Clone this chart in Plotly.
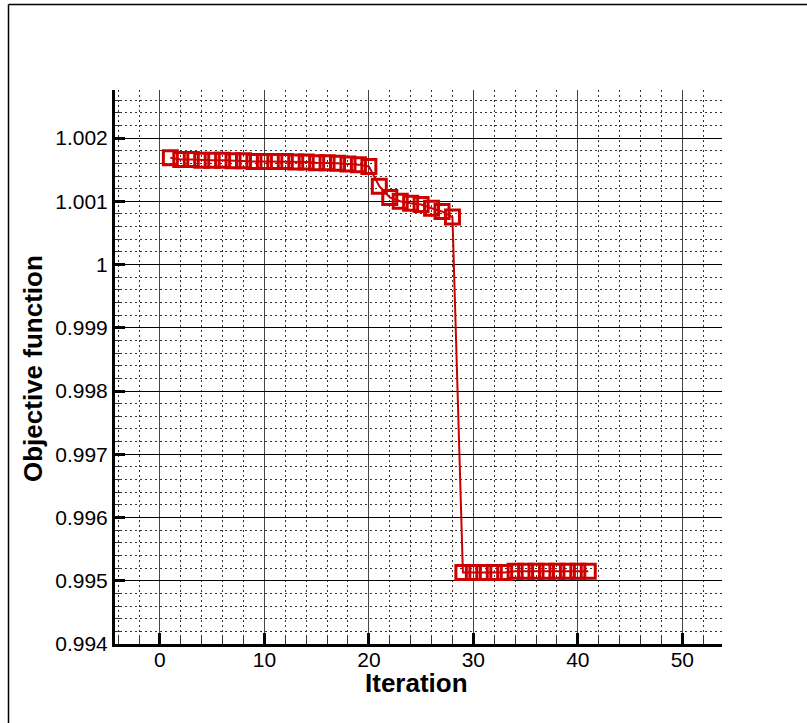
import plotly.graph_objects as go

# Optimisation history: objective function value at each iteration
iterations = list(range(1, 42))
objective = [
    1.00169, 1.00166, 1.00166, 1.00165, 1.00165, 1.00165, 1.00164, 1.00164,
    1.00163, 1.00163, 1.00163, 1.00163, 1.00162, 1.00162, 1.00161, 1.00161,
    1.00160, 1.00159, 1.00158, 1.00155,
    1.00124, 1.00106, 1.00100, 1.00097, 1.00095, 1.00089, 1.00084, 1.00075,
    0.99513, 0.99513, 0.99513, 0.99513, 0.99513,
    0.99515, 0.99515, 0.99515, 0.99515, 0.99515, 0.99515, 0.99515, 0.99515,
]

x_ticks = [0, 10, 20, 30, 40, 50]
y_ticks = [0.994, 0.995, 0.996, 0.997, 0.998, 0.999, 1.000, 1.001, 1.002]
y_tick_text = ["0.994", "0.995", "0.996", "0.997", "0.998", "0.999", "1", "1.001", "1.002"]

FONT = "Liberation Sans, Arial, Helvetica, sans-serif"
RED = "#cc0000"

W, H = 807, 723
L, R, T, B = 115, 85, 90, 79
pw, ph = W - L - R, H - T - B


def px_x(p):
    return (p - L) / pw


def px_y(p):
    return (H - B - p) / ph


fig = go.Figure()
fig.add_trace(go.Scatter(
    x=iterations,
    y=objective,
    mode="lines+markers",
    line=dict(color=RED, width=2),
    marker=dict(symbol="square-open", size=14, color=RED, line=dict(color=RED, width=3)),
    showlegend=False,
))

fig.update_layout(
    width=W,
    height=H,
    autosize=False,
    margin=dict(l=L, r=R, t=T, b=B, pad=0),
    paper_bgcolor="white",
    plot_bgcolor="white",
    font=dict(family=FONT, size=21, color="black"),
    showlegend=False,
)

fig.update_xaxes(
    range=[-4.3, 53.8],
    tickvals=x_ticks,
    ticks="inside",
    ticklen=11,
    tickwidth=3,
    tickcolor="black",
    showline=True,
    linecolor="black",
    linewidth=3,
    mirror=False,
    showgrid=True,
    gridcolor="#444444",
    gridwidth=1,
    zeroline=False,
    tickfont=dict(family=FONT, size=21),
    ticklabelstandoff=-5,
    minor=dict(
        dtick=2,
        ticks="inside",
        ticklen=8,
        tickwidth=1,
        tickcolor="#333333",
        showgrid=True,
        gridcolor="#333333",
        gridwidth=1,
        griddash="1.5px,3.5px",
    ),
)

fig.update_yaxes(
    range=[0.994, 1.00276],
    tickvals=y_ticks,
    ticktext=y_tick_text,
    ticks="inside",
    ticklen=10,
    tickwidth=3,
    tickcolor="black",
    showline=True,
    linecolor="black",
    linewidth=3,
    mirror=False,
    showgrid=True,
    gridcolor="black",
    gridwidth=1,
    zeroline=False,
    tickfont=dict(family=FONT, size=21),
    minor=dict(
        dtick=0.0002,
        ticks="inside",
        ticklen=5,
        tickwidth=1,
        tickcolor="#333333",
        showgrid=True,
        gridcolor="#333333",
        gridwidth=1,
        griddash="1.5px,3.5px",
    ),
)

# Axis titles
fig.add_annotation(
    text="<b>Iteration</b>", xref="paper", yref="paper",
    x=px_x(416), y=px_y(683), xanchor="center", yanchor="middle",
    showarrow=False, font=dict(family=FONT, size=26, color="black"),
)
fig.add_annotation(
    text="<b>Objective function</b>", xref="paper", yref="paper",
    x=px_x(33), y=px_y(369), xanchor="center", yanchor="middle",
    textangle=-90, showarrow=False, font=dict(family=FONT, size=26, color="black"),
)

# Page frame
frame_left, frame_top = px_x(8.5), px_y(4.5)
fig.add_shape(type="line", xref="paper", yref="paper",
              x0=frame_left, x1=frame_left, y0=px_y(H + 10), y1=frame_top,
              line=dict(color="black", width=1.5))
fig.add_shape(type="line", xref="paper", yref="paper",
              x0=frame_left, x1=px_x(W + 10), y0=frame_top, y1=frame_top,
              line=dict(color="black", width=1.5))

fig.write_html("out.html")
